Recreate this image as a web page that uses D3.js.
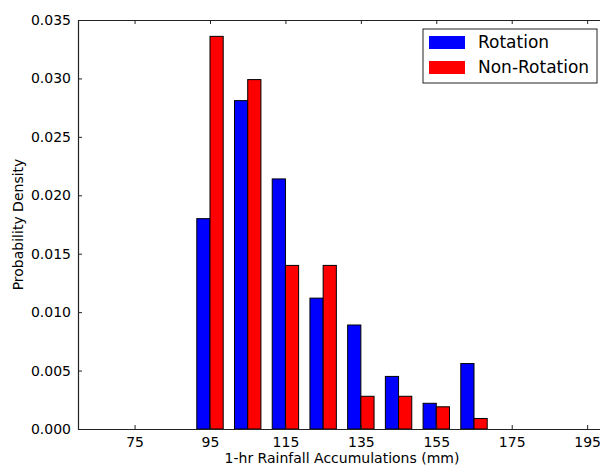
<!DOCTYPE html>
<html>
<head>
<meta charset="utf-8">
<script src="https://cdn.jsdelivr.net/npm/d3@7"></script>
<style>
  body { margin: 0; background: #fff; }
  svg { display: block; font-family: "DejaVu Sans", sans-serif; }
</style>
</head>
<body>
<svg id="chart" width="600" height="467"></svg>
<script>
// bin centres (mm) and densities
const bins = [75, 95, 105, 115, 125, 135, 145, 155, 165];
const rotation = [0, 0.0180, 0.0281, 0.0214, 0.0112, 0.0089, 0.0045, 0.0022, 0.0056];
const nonRotation = [0, 0.0336, 0.0299, 0.0140, 0.0140, 0.0028, 0.0028, 0.0019, 0.0009];
const xTicks = [75, 95, 115, 135, 155, 175, 195];
const yTicks = [0, 0.005, 0.010, 0.015, 0.020, 0.025, 0.030, 0.035];
const seriesNames = ["Rotation", "Non-Rotation"];
const colors = ["#0000ff", "#ff0000"];

const width = 600, height = 467;
const margin = {top: 20, right: -6, bottom: 38, left: 78};
const barW = 3.5; // each bar's width in mm

const svg = d3.select("#chart");

const x = d3.scaleLinear()
    .domain([60, 200])
    .range([margin.left, width - margin.right]);

const y = d3.scaleLinear()
    .domain([0, 0.035])
    .range([height - margin.bottom, margin.top]);

// bars
const series = [rotation, nonRotation];
series.forEach((vals, s) => {
    svg.append("g")
        .selectAll("rect")
        .data(bins.map((b, i) => ({bin: b, v: vals[i]})))
        .enter()
        .append("rect")
        .attr("x", d => x(s === 0 ? d.bin - barW : d.bin))
        .attr("width", d => x(d.bin + barW) - x(d.bin))
        .attr("y", d => y(d.v))
        .attr("height", d => y(0) - y(d.v))
        .attr("fill", colors[s])
        .attr("stroke", "#000")
        .attr("stroke-width", 1);
});

// axes with inward ticks (classic matplotlib look)
const fmt = d3.format(".3f");
svg.append("g")
    .attr("transform", `translate(0,${y(0)})`)
    .call(d3.axisBottom(x).tickValues(xTicks).tickSizeInner(-4).tickSizeOuter(0).tickPadding(8));
svg.append("g")
    .attr("transform", `translate(0,${y(0.035)})`)
    .call(d3.axisTop(x).tickValues(xTicks).tickSizeInner(-4).tickSizeOuter(0).tickFormat(""));
svg.append("g")
    .attr("transform", `translate(${margin.left},0)`)
    .call(d3.axisLeft(y).tickValues(yTicks).tickFormat(fmt).tickSizeInner(-4).tickSizeOuter(0).tickPadding(7));
svg.append("g")
    .attr("transform", `translate(${width - margin.right},0)`)
    .call(d3.axisRight(y).tickValues(yTicks).tickSizeInner(-4).tickSizeOuter(0).tickFormat(""));

svg.selectAll(".domain").attr("stroke", "#222").attr("stroke-width", 1.2);
svg.selectAll(".tick line").attr("stroke", "#222");
svg.selectAll(".tick text")
    .attr("font-size", 14)
    .attr("fill", "#000")
    .attr("font-family", "DejaVu Sans, sans-serif");

// axis titles
svg.append("text")
    .attr("x", (x(60) + x(200)) / 2)
    .attr("y", 463)
    .attr("text-anchor", "middle")
    .attr("font-size", 14)
    .text("1-hr Rainfall Accumulations (mm)");

svg.append("text")
    .attr("transform", `translate(23,${(y(0) + y(0.035)) / 2}) rotate(-90)`)
    .attr("text-anchor", "middle")
    .attr("font-size", 14)
    .text("Probability Density");

// legend
const legend = svg.append("g").attr("transform", "translate(423,29)");
legend.append("rect")
    .attr("width", 174).attr("height", 54)
    .attr("fill", "#fff").attr("stroke", "#222").attr("stroke-width", 1);
seriesNames.forEach((name, i) => {
    legend.append("rect")
        .attr("x", 6).attr("y", 7 + i * 25)
        .attr("width", 36).attr("height", 13)
        .attr("fill", colors[i]);
    legend.append("text")
        .attr("x", 55).attr("y", 19 + i * 25)
        .attr("font-size", 17)
        .text(name);
});
</script>
</body>
</html>
